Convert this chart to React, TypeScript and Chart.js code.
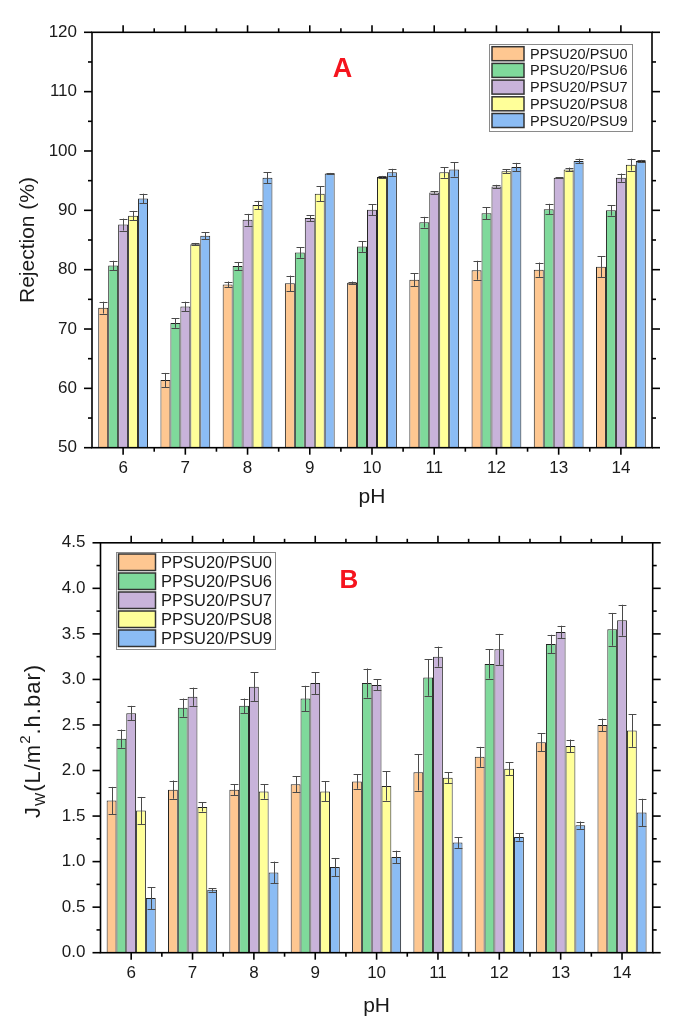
import React, { useEffect, useRef } from 'react';
import { Chart, registerables } from 'chart.js';

Chart.register(...registerables);

const FONT = '"Liberation Sans", Arial, Helvetica, sans-serif';

// ---------- data ----------
const phLabels = ['6', '7', '8', '9', '10', '11', '12', '13', '14'];
const seriesNames = ['PPSU20/PSU0', 'PPSU20/PSU6', 'PPSU20/PSU7', 'PPSU20/PSU8', 'PPSU20/PSU9'];
const seriesColors = ['#FEC791', '#7FD99B', '#C8B3DA', '#FFFF99', '#8BBCF4'];

// Panel A: rejection (%)
const rejPSU0 = [73.6, 61.4, 77.5, 77.7, 77.8, 78.3, 79.9, 80.0, 80.5];
const rejPSU0Err = [1.0, 1.2, 0.5, 1.3, 0.2, 1.1, 1.6, 1.2, 1.8];
const rejPSU6 = [80.7, 71.0, 80.6, 82.9, 83.9, 88.0, 89.5, 90.2, 90.0];
const rejPSU6Err = [0.8, 0.8, 0.7, 0.9, 0.9, 0.9, 1.0, 0.9, 0.9];
const rejPSU7 = [87.6, 73.8, 88.4, 88.7, 90.1, 93.0, 94.0, 95.5, 95.5];
const rejPSU7Err = [1.0, 0.8, 1.0, 0.5, 0.9, 0.2, 0.3, 0.1, 0.7];
const rejPSU8 = [89.1, 84.3, 90.9, 92.8, 95.6, 96.4, 96.6, 96.9, 97.7];
const rejPSU8Err = [0.8, 0.2, 0.7, 1.3, 0.2, 0.9, 0.3, 0.3, 1.0];
const rejPSU9 = [92.0, 85.7, 95.5, 96.2, 96.4, 96.9, 97.3, 98.3, 98.3];
const rejPSU9Err = [0.8, 0.6, 0.9, 0.1, 0.6, 1.2, 0.7, 0.4, 0.2];

// Panel B: water flux Jw (L/m2.h.bar)
const fluxPSU0 = [1.67, 1.79, 1.79, 1.85, 1.88, 1.98, 2.15, 2.31, 2.50];
const fluxPSU0Err = [0.15, 0.10, 0.06, 0.09, 0.08, 0.20, 0.11, 0.10, 0.07];
const fluxPSU6 = [2.35, 2.69, 2.71, 2.79, 2.96, 3.02, 3.17, 3.39, 3.55];
const fluxPSU6Err = [0.10, 0.10, 0.08, 0.14, 0.16, 0.20, 0.16, 0.10, 0.18];
const fluxPSU7 = [2.63, 2.81, 2.92, 2.96, 2.94, 3.25, 3.33, 3.52, 3.65];
const fluxPSU7Err = [0.08, 0.10, 0.16, 0.12, 0.06, 0.11, 0.17, 0.07, 0.17];
const fluxPSU8 = [1.56, 1.60, 1.77, 1.77, 1.83, 1.92, 2.02, 2.27, 2.44];
const fluxPSU8Err = [0.15, 0.05, 0.08, 0.11, 0.16, 0.06, 0.07, 0.07, 0.18];
const fluxPSU9 = [0.60, 0.69, 0.88, 0.94, 1.05, 1.21, 1.27, 1.40, 1.54];
const fluxPSU9Err = [0.12, 0.02, 0.12, 0.10, 0.07, 0.06, 0.04, 0.04, 0.15];

const rejTicks = { min: 50, max: 120, step: 10, decimals: 0 };
const fluxTicks = { min: 0, max: 4.5, step: 0.5, decimals: 1 };

// ---------- chart builder ----------
type Layout = {
  height: number;
  axisLeft: number;
  padTop: number;
  padRight: number;
  plotBottom: number;
  legend: { x: number; y: number; w: number; h: number; swX: number; swW: number; swH: number; rowTop: number; pitch: number; textX: number; font: number };
  letter: { text: string; x: number; y: number; size: number };
  xTitle: { x: number; y: number };
  yTitle: { x: number; y: number };
  yTitleParts: { t: string; size: number; dy: number }[];
  yTitleSpacing: number;
};

function buildChart(
  canvas: HTMLCanvasElement,
  values: number[][],
  errors: number[][],
  tickCfg: { min: number; max: number; step: number; decimals: number },
  L: Layout
) {
  const datasets = values.map((vals, i) => ({
    label: seriesNames[i],
    data: vals,
    errors: errors[i],
    backgroundColor: seriesColors[i],
    borderColor: '#222222',
    borderWidth: 1,
    categoryPercentage: 0.8,
    barPercentage: 1.0,
  }));

  const line = (ctx: CanvasRenderingContext2D, x1: number, y1: number, x2: number, y2: number) => {
    ctx.beginPath();
    ctx.moveTo(x1, y1);
    ctx.lineTo(x2, y2);
    ctx.stroke();
  };

  const decor = {
    id: 'decor',
    afterDatasetsDraw(chart: any) {
      const ctx: CanvasRenderingContext2D = chart.ctx;
      const ys = chart.scales.y;
      ctx.save();
      ctx.strokeStyle = '#4a4a4a';
      ctx.lineWidth = 1;
      chart.data.datasets.forEach((ds: any, di: number) => {
        const meta = chart.getDatasetMeta(di);
        meta.data.forEach((bar: any, i: number) => {
          const v = ds.data[i];
          const e = ds.errors[i];
          const yHi = ys.getPixelForValue(v + e);
          const yLo = ys.getPixelForValue(v - e);
          const cap = bar.width * 0.8;
          const x = Math.round(bar.x) + 0.5;
          line(ctx, x, yHi, x, yLo);
          line(ctx, x - cap / 2, Math.round(yHi) + 0.5, x + cap / 2, Math.round(yHi) + 0.5);
          line(ctx, x - cap / 2, Math.round(yLo) + 0.5, x + cap / 2, Math.round(yLo) + 0.5);
        });
      });
      ctx.restore();
    },
    afterDraw(chart: any) {
      const ctx: CanvasRenderingContext2D = chart.ctx;
      const { left, right, top, bottom } = chart.chartArea;
      const ys = chart.scales.y;
      const xs = chart.scales.x;
      ctx.save();
      ctx.strokeStyle = '#000';
      ctx.lineWidth = 1.6;
      ctx.strokeRect(left, top, right - left, bottom - top);
      // y ticks (left and right)
      const yt = ys.ticks.map((t: any) => t.value);
      for (let k = 0; k < yt.length; k++) {
        const p = ys.getPixelForValue(yt[k]);
        line(ctx, left - 8, p, left, p);
        line(ctx, right, p, right + 8, p);
        if (k < yt.length - 1) {
          const m = ys.getPixelForValue((yt[k] + yt[k + 1]) / 2);
          line(ctx, left - 4, m, left, m);
          line(ctx, right, m, right + 4, m);
        }
      }
      // x ticks (bottom and top)
      const n = chart.data.labels.length;
      for (let i = 0; i < n; i++) {
        const p = xs.getPixelForTick(i);
        line(ctx, p, bottom, p, bottom + 7);
        line(ctx, p, top, p, top - 7);
        if (i < n - 1) {
          const m = (p + xs.getPixelForTick(i + 1)) / 2;
          line(ctx, m, bottom, m, bottom + 4);
          line(ctx, m, top, m, top - 4);
        }
      }
      // legend
      const lg = L.legend;
      ctx.lineWidth = 1;
      ctx.strokeStyle = '#8a8a8a';
      ctx.fillStyle = '#fff';
      ctx.fillRect(lg.x, lg.y, lg.w, lg.h);
      ctx.strokeRect(lg.x + 0.5, lg.y + 0.5, lg.w, lg.h);
      ctx.font = `${lg.font}px ${FONT}`;
      ctx.textBaseline = 'middle';
      ctx.textAlign = 'left';
      chart.data.datasets.forEach((ds: any, i: number) => {
        const y0 = lg.rowTop + i * lg.pitch;
        ctx.fillStyle = ds.backgroundColor;
        ctx.fillRect(lg.swX, y0, lg.swW, lg.swH);
        ctx.strokeStyle = '#333';
        ctx.lineWidth = 1.5;
        ctx.strokeRect(lg.swX, y0, lg.swW, lg.swH);
        ctx.fillStyle = '#1a1a1a';
        ctx.fillText(ds.label, lg.textX, y0 + lg.swH / 2 + 1);
      });
      // panel letter
      ctx.fillStyle = '#F5141E';
      ctx.font = `bold ${L.letter.size}px ${FONT}`;
      ctx.textAlign = 'center';
      ctx.textBaseline = 'middle';
      ctx.fillText(L.letter.text, L.letter.x, L.letter.y);
      // x title
      ctx.fillStyle = '#1a1a1a';
      ctx.font = `21px ${FONT}`;
      ctx.fillText('pH', L.xTitle.x, L.xTitle.y);
      // y title (rotated, with sub/superscripts)
      ctx.translate(L.yTitle.x, L.yTitle.y);
      ctx.rotate(-Math.PI / 2);
      ctx.textAlign = 'left';
      ctx.textBaseline = 'alphabetic';
      (ctx as any).letterSpacing = `${L.yTitleSpacing}px`;
      let total = 0;
      const widths = L.yTitleParts.map((p) => {
        ctx.font = `${p.size}px ${FONT}`;
        const w = ctx.measureText(p.t).width;
        total += w;
        return w;
      });
      let x = -total / 2;
      L.yTitleParts.forEach((p, i) => {
        ctx.font = `${p.size}px ${FONT}`;
        ctx.fillText(p.t, x, 7 + p.dy);
        x += widths[i];
      });
      ctx.restore();
    },
  };

  return new Chart(canvas, {
    type: 'bar',
    data: { labels: phLabels, datasets: datasets as any },
    options: {
      responsive: false,
      animation: false,
      layout: { padding: { top: L.padTop, right: L.padRight, left: 0, bottom: 0 } },
      plugins: { legend: { display: false }, tooltip: { enabled: false }, title: { display: false } },
      scales: {
        x: {
          grid: { display: false, drawTicks: false },
          border: { display: false },
          ticks: { color: '#1a1a1a', padding: 10, font: { family: FONT, size: 17 } },
          afterFit: (s: any) => {
            s.height = L.height - L.plotBottom;
          },
        },
        y: {
          min: tickCfg.min,
          max: tickCfg.max,
          grid: { display: false, drawTicks: false },
          border: { display: false },
          ticks: {
            stepSize: tickCfg.step,
            color: '#1a1a1a',
            padding: 15,
            font: { family: FONT, size: 17 },
            callback: (v: any) => Number(v).toFixed(tickCfg.decimals),
          },
          afterFit: (s: any) => {
            s.width = L.axisLeft;
          },
        },
      },
    },
    plugins: [decor],
  } as any);
}

const layoutA: Layout = {
  height: 510,
  axisLeft: 92,
  padTop: 32.3,
  padRight: 29,
  plotBottom: 447.7,
  legend: { x: 489, y: 44, w: 143, h: 87, swX: 492, swW: 32, swH: 14, rowTop: 46.7, pitch: 16.7, textX: 530, font: 14.5 },
  letter: { text: 'A', x: 342.5, y: 70, size: 27 },
  xTitle: { x: 372, y: 497 },
  yTitle: { x: 27, y: 240 },
  yTitleParts: [{ t: 'Rejection (%)', size: 21, dy: 0 }],
  yTitleSpacing: 0,
};

const layoutB: Layout = {
  height: 518,
  axisLeft: 100.5,
  padTop: 32.8,
  padRight: 28.3,
  plotBottom: 442.7,
  legend: { x: 116, y: 42, w: 159, h: 97, swX: 118.5, swW: 37, swH: 16.5, rowTop: 44, pitch: 19, textX: 161, font: 16.5 },
  letter: { text: 'B', x: 349, y: 71, size: 26 },
  xTitle: { x: 376.6, y: 496 },
  yTitle: { x: 33, y: 231 },
  yTitleParts: [
    { t: 'J', size: 22, dy: 0 },
    { t: 'W', size: 14, dy: 5 },
    { t: '(L/m', size: 22, dy: 0 },
    { t: '2', size: 15, dy: -10 },
    { t: '.h.bar)', size: 22, dy: 0 },
  ],
  yTitleSpacing: 1,
};

export default function App() {
  const refA = useRef<HTMLCanvasElement>(null);
  const refB = useRef<HTMLCanvasElement>(null);

  useEffect(() => {
    const a = buildChart(
      refA.current!,
      [rejPSU0, rejPSU6, rejPSU7, rejPSU8, rejPSU9],
      [rejPSU0Err, rejPSU6Err, rejPSU7Err, rejPSU8Err, rejPSU9Err],
      rejTicks,
      layoutA
    );
    const b = buildChart(
      refB.current!,
      [fluxPSU0, fluxPSU6, fluxPSU7, fluxPSU8, fluxPSU9],
      [fluxPSU0Err, fluxPSU6Err, fluxPSU7Err, fluxPSU8Err, fluxPSU9Err],
      fluxTicks,
      layoutB
    );
    return () => {
      a.destroy();
      b.destroy();
    };
  }, []);

  return (
    <div style={{ position: 'absolute', left: 0, top: 0, width: 681, height: 1028, background: '#fff' }}>
      <canvas ref={refA} width={681} height={510} style={{ position: 'absolute', left: 0, top: 0, width: 681, height: 510 }} />
      <canvas ref={refB} width={681} height={518} style={{ position: 'absolute', left: 0, top: 510, width: 681, height: 518 }} />
    </div>
  );
}
